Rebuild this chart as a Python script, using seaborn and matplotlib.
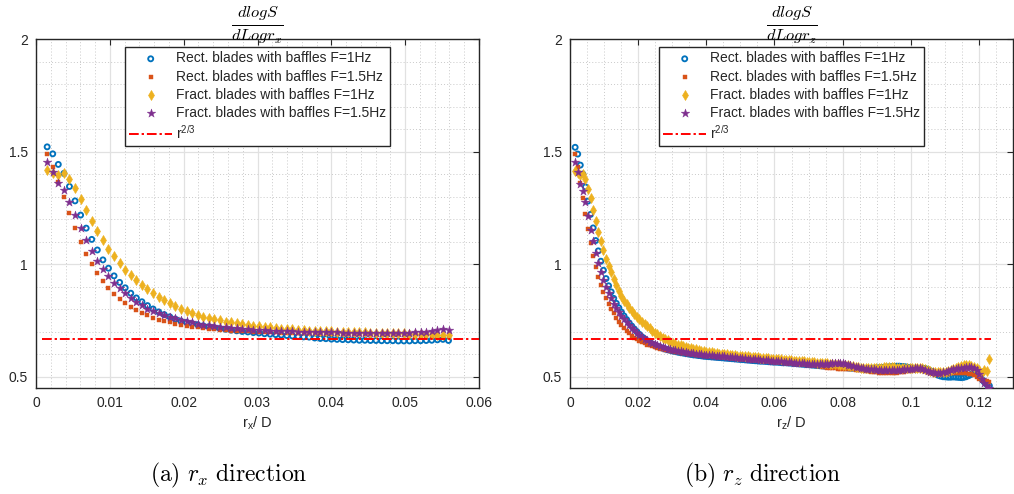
import numpy as np
import pandas as pd
import matplotlib
matplotlib.use("Agg")
import matplotlib.pyplot as plt
from matplotlib.ticker import MultipleLocator
import seaborn as sns

# ---------------- data ----------------
dx = 0.000755
left_k = np.arange(2, 75)      # sample index along r_x
right_k = np.arange(2, 164)    # sample index along r_z

left_rect_1hz = [
    1.521, 1.490, 1.443, 1.403, 1.345, 1.281, 1.218, 1.160, 1.110, 1.063,
    1.019, 0.982, 0.948, 0.919, 0.895, 0.871, 0.850, 0.833, 0.816, 0.801,
    0.788, 0.776, 0.766, 0.756, 0.747, 0.741, 0.736, 0.731, 0.726, 0.722,
    0.718, 0.714, 0.711, 0.707, 0.704, 0.701, 0.699, 0.696, 0.694, 0.691,
    0.689, 0.687, 0.685, 0.683, 0.681, 0.679, 0.677, 0.676, 0.672, 0.670,
    0.669, 0.667, 0.666, 0.665, 0.664, 0.663, 0.662, 0.662, 0.661, 0.661,
    0.660, 0.660, 0.660, 0.659, 0.659, 0.659, 0.660, 0.660, 0.661, 0.662,
    0.664, 0.666, 0.661]
left_rect_15hz = [
    1.489, 1.432, 1.365, 1.297, 1.228, 1.161, 1.099, 1.045, 1.000, 0.959,
    0.923, 0.893, 0.868, 0.845, 0.826, 0.809, 0.795, 0.783, 0.772, 0.762,
    0.754, 0.747, 0.741, 0.735, 0.730, 0.726, 0.722, 0.719, 0.716, 0.713,
    0.711, 0.709, 0.707, 0.705, 0.704, 0.702, 0.701, 0.700, 0.699, 0.698,
    0.697, 0.697, 0.696, 0.695, 0.695, 0.694, 0.694, 0.693, 0.693, 0.692,
    0.692, 0.691, 0.691, 0.690, 0.690, 0.689, 0.689, 0.688, 0.688, 0.687,
    0.687, 0.686, 0.686, 0.685, 0.684, 0.683, 0.682, 0.680, 0.679, 0.677,
    0.676, 0.675, 0.676]
left_fract_1hz = [
    1.420, 1.406, 1.397, 1.403, 1.380, 1.337, 1.289, 1.240, 1.193, 1.148,
    1.106, 1.069, 1.036, 1.004, 0.975, 0.951, 0.928, 0.907, 0.889, 0.870,
    0.855, 0.840, 0.828, 0.815, 0.803, 0.792, 0.783, 0.775, 0.767, 0.761,
    0.755, 0.750, 0.745, 0.741, 0.737, 0.733, 0.730, 0.727, 0.724, 0.721,
    0.719, 0.716, 0.714, 0.712, 0.710, 0.708, 0.707, 0.705, 0.704, 0.703,
    0.702, 0.701, 0.700, 0.699, 0.698, 0.698, 0.697, 0.697, 0.696, 0.696,
    0.695, 0.695, 0.694, 0.694, 0.693, 0.692, 0.691, 0.690, 0.689, 0.688,
    0.687, 0.686, 0.686]
left_fract_15hz = [
    1.454, 1.410, 1.361, 1.328, 1.277, 1.218, 1.159, 1.106, 1.059, 1.016,
    0.979, 0.946, 0.917, 0.893, 0.870, 0.850, 0.833, 0.817, 0.803, 0.793,
    0.784, 0.776, 0.767, 0.759, 0.752, 0.746, 0.741, 0.736, 0.732, 0.728,
    0.725, 0.722, 0.719, 0.717, 0.715, 0.713, 0.711, 0.709, 0.708, 0.706,
    0.705, 0.704, 0.703, 0.702, 0.701, 0.700, 0.700, 0.699, 0.698, 0.698,
    0.697, 0.697, 0.697, 0.696, 0.696, 0.696, 0.695, 0.695, 0.695, 0.695,
    0.695, 0.695, 0.695, 0.695, 0.696, 0.696, 0.697, 0.698, 0.699, 0.701,
    0.708, 0.710, 0.709]

right_rect_1hz = [
    1.519, 1.489, 1.440, 1.400, 1.343, 1.280, 1.221, 1.161, 1.105, 1.059,
    1.013, 0.973, 0.936, 0.904, 0.877, 0.848, 0.826, 0.806, 0.787, 0.770,
    0.754, 0.739, 0.725, 0.712, 0.700, 0.688, 0.677, 0.667, 0.659, 0.652,
    0.645, 0.640, 0.635, 0.631, 0.627, 0.623, 0.620, 0.617, 0.614, 0.612,
    0.609, 0.607, 0.605, 0.603, 0.601, 0.599, 0.597, 0.596, 0.594, 0.593,
    0.591, 0.590, 0.589, 0.588, 0.587, 0.586, 0.585, 0.584, 0.583, 0.582,
    0.581, 0.580, 0.579, 0.578, 0.577, 0.576, 0.575, 0.574, 0.573, 0.572,
    0.571, 0.570, 0.569, 0.569, 0.568, 0.567, 0.566, 0.565, 0.565, 0.564,
    0.563, 0.562, 0.562, 0.561, 0.560, 0.559, 0.558, 0.557, 0.556, 0.555,
    0.554, 0.553, 0.552, 0.551, 0.550, 0.549, 0.548, 0.547, 0.547, 0.546,
    0.546, 0.545, 0.544, 0.543, 0.541, 0.540, 0.539, 0.538, 0.538, 0.537,
    0.536, 0.536, 0.535, 0.535, 0.536, 0.537, 0.538, 0.539, 0.540, 0.541,
    0.542, 0.543, 0.544, 0.545, 0.546, 0.547, 0.547, 0.546, 0.545, 0.543,
    0.541, 0.539, 0.537, 0.536, 0.537, 0.538, 0.537, 0.533, 0.527, 0.520,
    0.513, 0.507, 0.503, 0.500, 0.499, 0.498, 0.498, 0.499, 0.498, 0.497,
    0.496, 0.497, 0.500, 0.505, 0.511, 0.516, 0.514, 0.505, 0.490, 0.477,
    0.466, 0.460]
right_rect_15hz = [
    1.488, 1.430, 1.362, 1.295, 1.225, 1.156, 1.096, 1.037, 0.988, 0.944,
    0.907, 0.877, 0.848, 0.825, 0.803, 0.781, 0.761, 0.744, 0.729, 0.716,
    0.704, 0.693, 0.683, 0.674, 0.666, 0.659, 0.653, 0.648, 0.643, 0.639,
    0.635, 0.631, 0.628, 0.625, 0.622, 0.619, 0.617, 0.615, 0.613, 0.611,
    0.609, 0.607, 0.605, 0.604, 0.602, 0.601, 0.600, 0.598, 0.597, 0.596,
    0.595, 0.594, 0.593, 0.592, 0.591, 0.590, 0.589, 0.588, 0.587, 0.586,
    0.585, 0.584, 0.583, 0.582, 0.581, 0.580, 0.579, 0.578, 0.577, 0.576,
    0.575, 0.574, 0.573, 0.572, 0.571, 0.570, 0.569, 0.568, 0.567, 0.566,
    0.565, 0.564, 0.563, 0.562, 0.561, 0.560, 0.559, 0.558, 0.557, 0.556,
    0.555, 0.553, 0.552, 0.550, 0.549, 0.547, 0.545, 0.543, 0.541, 0.540,
    0.538, 0.537, 0.536, 0.535, 0.535, 0.534, 0.534, 0.533, 0.533, 0.532,
    0.531, 0.530, 0.529, 0.527, 0.525, 0.523, 0.521, 0.519, 0.518, 0.517,
    0.516, 0.516, 0.515, 0.515, 0.516, 0.517, 0.519, 0.521, 0.523, 0.525,
    0.527, 0.529, 0.531, 0.532, 0.531, 0.528, 0.524, 0.520, 0.517, 0.515,
    0.514, 0.513, 0.513, 0.513, 0.514, 0.514, 0.515, 0.515, 0.515, 0.516,
    0.516, 0.516, 0.515, 0.514, 0.512, 0.508, 0.500, 0.492, 0.485, 0.482,
    0.481, 0.478]
right_fract_1hz = [
    1.415, 1.405, 1.396, 1.401, 1.379, 1.336, 1.292, 1.240, 1.191, 1.144,
    1.102, 1.062, 1.025, 0.992, 0.963, 0.933, 0.907, 0.881, 0.858, 0.837,
    0.821, 0.806, 0.792, 0.779, 0.767, 0.756, 0.745, 0.735, 0.725, 0.716,
    0.705, 0.696, 0.688, 0.680, 0.673, 0.667, 0.661, 0.656, 0.651, 0.647,
    0.643, 0.639, 0.635, 0.632, 0.629, 0.626, 0.623, 0.621, 0.618, 0.616,
    0.614, 0.612, 0.610, 0.608, 0.606, 0.605, 0.603, 0.602, 0.600, 0.599,
    0.598, 0.597, 0.596, 0.594, 0.593, 0.592, 0.591, 0.590, 0.589, 0.588,
    0.587, 0.586, 0.585, 0.584, 0.583, 0.582, 0.581, 0.580, 0.579, 0.578,
    0.577, 0.576, 0.575, 0.574, 0.573, 0.572, 0.571, 0.570, 0.569, 0.568,
    0.567, 0.566, 0.565, 0.564, 0.563, 0.562, 0.561, 0.560, 0.559, 0.558,
    0.557, 0.556, 0.555, 0.554, 0.553, 0.552, 0.550, 0.548, 0.546, 0.545,
    0.543, 0.541, 0.540, 0.539, 0.538, 0.538, 0.538, 0.539, 0.540, 0.541,
    0.542, 0.542, 0.543, 0.543, 0.542, 0.541, 0.540, 0.539, 0.538, 0.537,
    0.537, 0.538, 0.540, 0.541, 0.540, 0.537, 0.533, 0.529, 0.525, 0.522,
    0.520, 0.519, 0.519, 0.520, 0.522, 0.525, 0.529, 0.534, 0.539, 0.544,
    0.548, 0.551, 0.552, 0.551, 0.549, 0.545, 0.538, 0.528, 0.518, 0.530,
    0.524, 0.577]
right_fract_15hz = [
    1.452, 1.410, 1.354, 1.324, 1.274, 1.215, 1.152, 1.102, 1.049, 1.003,
    0.966, 0.929, 0.899, 0.870, 0.848, 0.825, 0.806, 0.788, 0.771, 0.756,
    0.742, 0.729, 0.717, 0.706, 0.696, 0.686, 0.677, 0.669, 0.662, 0.655,
    0.649, 0.644, 0.640, 0.636, 0.632, 0.628, 0.625, 0.622, 0.620, 0.617,
    0.615, 0.613, 0.611, 0.609, 0.607, 0.605, 0.604, 0.602, 0.601, 0.599,
    0.598, 0.597, 0.596, 0.595, 0.594, 0.593, 0.592, 0.591, 0.590, 0.589,
    0.588, 0.587, 0.586, 0.585, 0.584, 0.583, 0.582, 0.581, 0.580, 0.579,
    0.578, 0.577, 0.576, 0.575, 0.574, 0.573, 0.572, 0.571, 0.570, 0.569,
    0.568, 0.567, 0.566, 0.565, 0.564, 0.563, 0.562, 0.561, 0.560, 0.559,
    0.558, 0.557, 0.556, 0.556, 0.555, 0.555, 0.555, 0.556, 0.557, 0.558,
    0.559, 0.560, 0.560, 0.560, 0.559, 0.557, 0.554, 0.551, 0.548, 0.545,
    0.542, 0.540, 0.538, 0.536, 0.535, 0.534, 0.533, 0.532, 0.532, 0.531,
    0.531, 0.531, 0.530, 0.530, 0.530, 0.530, 0.531, 0.532, 0.533, 0.534,
    0.535, 0.536, 0.537, 0.538, 0.537, 0.534, 0.530, 0.526, 0.522, 0.519,
    0.517, 0.516, 0.517, 0.519, 0.522, 0.526, 0.530, 0.533, 0.536, 0.538,
    0.540, 0.541, 0.542, 0.543, 0.543, 0.540, 0.530, 0.510, 0.490, 0.471,
    0.460, 0.450]

series_labels = ["Rect. blades with baffles F=1Hz",
                 "Rect. blades with baffles F=1.5Hz",
                 "Fract. blades with baffles F=1Hz",
                 "Fract. blades with baffles F=1.5Hz"]
ref_label = "r$^{2/3}$"
ref_value = 2.0 / 3.0
ref_x_left = [0.00075, 0.0605]
ref_x_right = [0.00075, 0.1234]

left_xticks = [0, 0.01, 0.02, 0.03, 0.04, 0.05, 0.06]
left_xticklabels = ["0", "0.01", "0.02", "0.03", "0.04", "0.05", "0.06"]
right_xticks = [0, 0.02, 0.04, 0.06, 0.08, 0.1, 0.12]
right_xticklabels = ["0", "0.02", "0.04", "0.06", "0.08", "0.1", "0.12"]
yticks = [0.5, 1, 1.5, 2]
yticklabels = ["0.5", "1", "1.5", "2"]

# ---------------- style ----------------
sns.set_theme(style="white")
plt.rcParams["font.family"] = ["Liberation Sans", "DejaVu Sans"]
plt.rcParams["mathtext.fontset"] = "custom"
plt.rcParams["mathtext.rm"] = "Liberation Sans"

colors = ["#0072BD", "#D95319", "#EDB120", "#7E2F8E"]
dark = "#262626"

W, H = 1014, 494
fig = plt.figure(figsize=(W / 100, H / 100), dpi=100)

def px_axes(x0, x1, ytop, ybot):
    return [x0 / W, 1 - ybot / H, (x1 - x0) / W, (ybot - ytop) / H]

ax_l = fig.add_axes(px_axes(36, 479, 39, 388))
ax_r = fig.add_axes(px_axes(570, 1013, 39, 388))


def draw(ax, k, data, ref_x, xlim, xticks, xticklabels, xminor, sub, title, caption, cap_x):
    x = k * dx
    for vals, lab, col, mk in zip(data, series_labels, colors, ["o", "s", "d", "*"]):
        df = pd.DataFrame({"x": x, "y": vals})
        if mk == "o":
            sns.scatterplot(data=df, x="x", y="y", ax=ax, marker="o", s=13,
                            facecolor="none", edgecolor=col, linewidth=1.35,
                            label=lab, zorder=3)
        elif mk == "s":
            sns.scatterplot(data=df, x="x", y="y", ax=ax, marker="s", s=8,
                            color=col, edgecolor=col, linewidth=0.3,
                            label=lab, zorder=3)
        elif mk == "d":
            sns.scatterplot(data=df, x="x", y="y", ax=ax, marker="d", s=26,
                            color=col, edgecolor=col, linewidth=0.4,
                            label=lab, zorder=3)
        else:
            sns.scatterplot(data=df, x="x", y="y", ax=ax, marker="*", s=42,
                            color=col, edgecolor=col, linewidth=0.3,
                            label=lab, zorder=3)
    ref_df = pd.DataFrame({"x": ref_x, "y": [ref_value, ref_value]})
    sns.lineplot(data=ref_df, x="x", y="y", ax=ax, color="#FF0000",
                 linestyle=(0, (5, 1.5, 1.2, 1.5)), linewidth=1.4,
                 label=ref_label, zorder=4)

    ax.set_xlim(*xlim)
    ax.set_ylim(0.45, 2.0)
    ax.set_xticks(xticks)
    ax.set_xticklabels(xticklabels)
    ax.set_yticks(yticks)
    ax.set_yticklabels(yticklabels)
    ax.xaxis.set_minor_locator(MultipleLocator(xminor))
    ax.yaxis.set_minor_locator(MultipleLocator(0.1))
    ax.set_axisbelow(True)
    ax.grid(True, which="major", color="#e1e1e1", linewidth=0.9, linestyle="-")
    ax.grid(True, which="minor", color="#c9c9c9", linewidth=0.7,
            linestyle=(0, (1, 2.2)))
    ax.tick_params(which="major", direction="in", top=True, right=True,
                   length=4.5, width=0.8, color=dark, labelsize=10,
                   labelcolor=dark, pad=6)
    ax.tick_params(which="minor", length=0, top=True, right=True)
    for s in ax.spines.values():
        s.set_color(dark)
        s.set_linewidth(1.0)
    ax.set_xlabel("r$_{\\mathregular{" + sub + "}}$/ D", fontsize=10.5,
                  color=dark, labelpad=3)
    ax.set_ylabel("")
    ax.set_title(title, fontsize=17, math_fontfamily="cm", color="black", pad=7)
    leg = ax.legend(loc="upper center", bbox_to_anchor=(0.5, 1 - 8 / 349),
                    fontsize=10, frameon=True, fancybox=False, framealpha=1,
                    edgecolor=dark, handlelength=3.1, handletextpad=0.25,
                    labelspacing=0.3, borderpad=0.32, borderaxespad=0,
                    scatterpoints=1)
    leg.get_frame().set_linewidth(1.0)
    for t in leg.get_texts():
        t.set_color(dark)
    fig.text(cap_x / W, 1 - 475 / H, caption, fontsize=17,
             math_fontfamily="cm", ha="center", va="center", color="black")


draw(ax_l, left_k, [left_rect_1hz, left_rect_15hz, left_fract_1hz, left_fract_15hz],
     ref_x_left, (0, 0.06), left_xticks, left_xticklabels, 0.002, "x",
     r"$\frac{dlogS}{dLogr_x}$", r"$\mathrm{(a)}\ r_x\ \mathrm{direction}$", 229)
draw(ax_r, right_k, [right_rect_1hz, right_rect_15hz, right_fract_1hz, right_fract_15hz],
     ref_x_right, (0, 0.13), right_xticks, right_xticklabels, 0.005, "z",
     r"$\frac{dlogS}{dLogr_z}$", r"$\mathrm{(b)}\ r_z\ \mathrm{direction}$", 763)

fig.savefig("out.png", dpi=100)
